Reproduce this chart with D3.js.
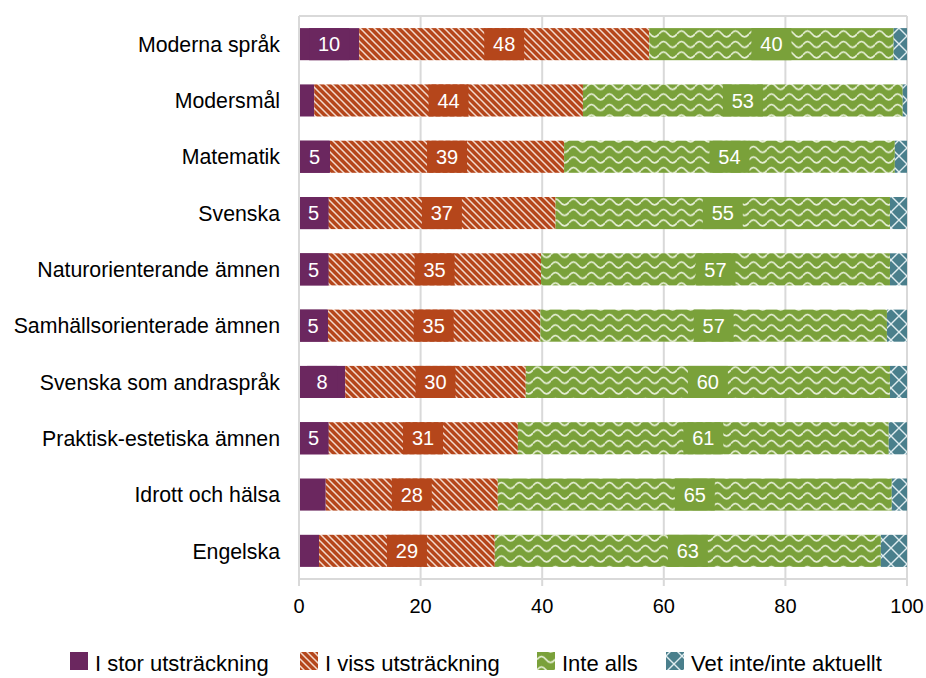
<!doctype html>
<meta charset="utf-8">
<title>Stacked bars</title>
<style>
    body {
        margin: 0;
        background: white;
        font-family: "Liberation Sans", Arial, sans-serif;
    }

    text {
        fill: #000;
    }

    .grid line {
        stroke: #d9d9d9;
        stroke-width: 2;
    }
</style>
<svg width=926 height=678></svg>
<script src=https://d3js.org/d3.v7.min.js></script>
<script>
    // data
    var subjects = ['Moderna språk', 'Modersmål', 'Matematik', 'Svenska', 'Naturorienterande ämnen',
        'Samhällsorienterade ämnen', 'Svenska som andraspråk', 'Praktisk-estetiska ämnen', 'Idrott och hälsa', 'Engelska'];
    var seriesNames = ['I stor utsträckning', 'I viss utsträckning', 'Inte alls', 'Vet inte/inte aktuellt'];
    var storValues = [9.9, 2.5, 5.1, 4.8, 4.8, 4.6, 7.6, 4.8, 4.4, 3.3];
    var vissValues = [47.7, 44.2, 38.5, 37.4, 35.0, 35.1, 29.7, 31.2, 28.3, 28.9];
    var inteValues = [40.2, 52.6, 54.4, 55.0, 57.4, 57.0, 59.9, 61.0, 64.8, 63.5];
    var vetValues = [2.2, 0.7, 2.0, 2.8, 2.8, 3.3, 2.8, 3.0, 2.5, 4.3];
    var xTicks = [0, 20, 40, 60, 80, 100];

    var colors = ['#6b275f', '#b5461b', '#7aa13a', '#4a7f8c'];

    var svg = d3.select('svg');
    var margin = {top: 16, right: 19, bottom: 99, left: 299};
    var width = 926 - margin.left - margin.right;
    var height = 678 - margin.top - margin.bottom;

    // patterns
    var defs = svg.append('defs');

    // diagonal stripes
    var p1 = defs.append('pattern').attr('id', 'pat1').attr('patternUnits', 'userSpaceOnUse')
        .attr('width', 7).attr('height', 7);
    p1.append('rect').attr('width', 7).attr('height', 7).attr('fill', colors[1]);
    p1.append('path').attr('d', 'M-1,-1 L8,8 M-4.5,2.5 L1,8 M2.5,-4.5 L8,1')
        .attr('stroke', '#f3d9cc').attr('stroke-width', 1.5);

    // waves
    var p2 = defs.append('pattern').attr('id', 'pat2').attr('patternUnits', 'userSpaceOnUse')
        .attr('width', 18).attr('height', 10.5).attr('y', 1);
    p2.append('rect').attr('width', 18).attr('height', 10.5).attr('fill', colors[2]);
    p2.append('path').attr('d', 'M0,6.5 Q4.5,0.5 9,6.5 Q13.5,12.5 18,6.5')
        .attr('fill', 'none').attr('stroke', '#e8f0d8').attr('stroke-width', 1.7);

    // lattice
    var p3 = defs.append('pattern').attr('id', 'pat3').attr('patternUnits', 'userSpaceOnUse')
        .attr('width', 16).attr('height', 16).attr('y', 4);
    p3.append('rect').attr('width', 16).attr('height', 16).attr('fill', colors[3]);
    p3.append('path').attr('d', 'M0,0 L16,16 M16,0 L0,16')
        .attr('stroke', '#dfecef').attr('stroke-width', 1.4);

    var fills = [colors[0], 'url(#pat1)', 'url(#pat2)', 'url(#pat3)'];

    var g = svg.append('g').attr('transform', 'translate(' + margin.left + ',' + margin.top + ')');

    var x = d3.scaleLinear().domain([0, 100]).range([0, width]);
    var y = d3.scaleBand().domain(subjects).range([0, height]).paddingInner(0.43).paddingOuter(0.215);

    // grid and frame
    var grid = g.append('g').attr('class', 'grid');
    grid.selectAll('line.v').data(xTicks).enter().append('line')
        .attr('x1', d => x(d)).attr('x2', d => x(d))
        .attr('y1', 0).attr('y2', height + 7);
    grid.append('line').attr('x1', 0).attr('x2', width).attr('y1', 0).attr('y2', 0);
    grid.append('line').attr('x1', 0).attr('x2', width).attr('y1', height).attr('y2', height);

    // stack
    var rows = subjects.map(function (s, i) {
        return {subject: s, values: [storValues[i], vissValues[i], inteValues[i], vetValues[i]]};
    });
    var keys = [0, 1, 2, 3];
    var stack = d3.stack().keys(keys).value((d, k) => d.values[k]);
    var layers = stack(rows);

    var layer = g.selectAll('.layer').data(layers).enter().append('g').attr('class', 'layer');

    layer.selectAll('rect').data(d => d.map(p => ({p: p, k: d.key}))).enter().append('rect')
        .attr('x', d => x(d.p[0]))
        .attr('width', d => x(d.p[1]) - x(d.p[0]))
        .attr('y', d => y(d.p.data.subject))
        .attr('height', y.bandwidth())
        .attr('fill', d => fills[d.k]);

    // value labels
    var labels = g.append('g');
    layers.forEach(function (layerData) {
        layerData.forEach(function (p) {
            var v = p[1] - p[0];
            var txt = Math.round(v);
            if (txt < 5) return;
            var cx = x((p[0] + p[1]) / 2);
            var cy = y(p.data.subject) + y.bandwidth() / 2;
            var w = String(txt).length > 1 ? 40 : 30;
            labels.append('rect')
                .attr('x', cx - w / 2).attr('y', y(p.data.subject))
                .attr('width', w).attr('height', y.bandwidth())
                .attr('fill', colors[layerData.key]);
            labels.append('text')
                .attr('x', cx).attr('y', cy).attr('dy', '0.36em')
                .attr('text-anchor', 'middle')
                .style('fill', 'white').style('font-size', '20px')
                .text(txt);
        });
    });

    // category labels
    g.append('g').selectAll('text').data(subjects).enter().append('text')
        .attr('x', -19).attr('y', d => y(d) + y.bandwidth() / 2).attr('dy', '0.36em')
        .attr('text-anchor', 'end').style('font-size', '21.3px')
        .text(d => d);

    // left axis line
    g.append('line').attr('x1', 0).attr('x2', 0).attr('y1', 0).attr('y2', height + 7)
        .attr('stroke', '#d9d9d9').attr('stroke-width', 2);

    // x tick labels
    g.append('g').selectAll('text').data(xTicks).enter().append('text')
        .attr('x', d => x(d)).attr('y', height + 27).attr('dy', '0.36em')
        .attr('text-anchor', 'middle').style('font-size', '20px')
        .text(d => d);

    // legend
    var legendX = [70, 300, 537, 666];
    var legend = svg.append('g').selectAll('g').data(seriesNames).enter().append('g')
        .attr('transform', (d, i) => 'translate(' + legendX[i] + ',652)');
    legend.append('rect').attr('width', 18).attr('height', 18)
        .attr('fill', (d, i) => fills[i]);
    legend.append('text').attr('x', 25).attr('y', 11).attr('dy', '0.36em')
        .style('font-size', '22px').text(d => d);
</script>
